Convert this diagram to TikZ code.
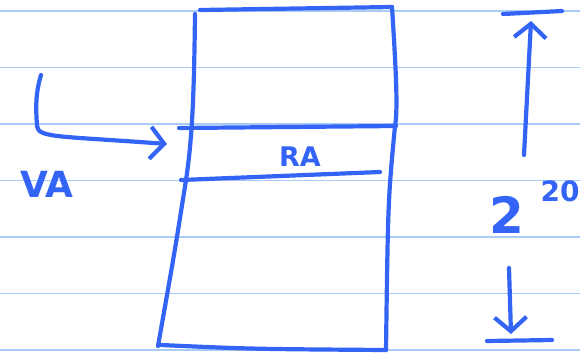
\documentclass[tikz,border=0pt]{standalone}
\usepackage{fontspec}
\setsansfont{DejaVu Sans}
\usetikzlibrary{arrows.meta, positioning, calc}
\definecolor{ink}{RGB}{52,100,246}
\definecolor{rule}{RGB}{168,204,246}

\begin{document}
\begin{tikzpicture}[
    x=1pt, y=-1pt,
    pen/.style={draw=ink, line width=4.2pt, line cap=round, line join=round},
    ruleline/.style={draw=rule, line width=1.8pt},
    handtext/.style={text=ink, inner sep=0pt},
    arrow/.style={pen, -{Straight Barb[length=14pt, width=32pt, line width=4.2pt]}}
  ]
  \useasboundingbox (0,0) rectangle (580,354);

  % ruled paper
  \foreach \y in {11, 67.5, 124, 180.5, 237, 293.5, 350}
    \draw[ruleline] (0,\y) -- (580,\y);

  % page frame
  \coordinate (tl) at (200,10);
  \coordinate (tr) at (392,7);
  \coordinate (br) at (386,350);
  \coordinate (bl) at (158,346);

  \draw[pen] (tl) -- (tr);
  \draw[pen] (195,14) .. controls (194,100) and (192,140) .. (186,180)
             .. controls (175,250) .. (bl);
  \draw[pen] (tr) .. controls (396,70) and (398,110) .. (395,126)
             .. controls (388,200) .. (br);
  \draw[pen] (161,345) .. controls (250,349) .. (br);

  % frame of the physical address
  \draw[pen] (179,128) -- (396,126);
  \draw[pen] (181,180) -- (380,172);
  \node[handtext, font=\sffamily\bfseries\fontsize{27}{27}\selectfont] (ra) at (300,157) {RA};

  % virtual address
  \coordinate (vastart) at (41,75);
  \coordinate (vaend) at (167,144);
  \draw[arrow] (vastart) .. controls (35,95) and (36,110) .. (37,126)
      .. controls (38,138) and (60,136) .. (vaend);
  \node[handtext, font=\sffamily\bfseries\fontsize{36}{36}\selectfont] (va) at (47,184) {VA};

  % size of the page
  \draw[pen] (503,14) -- (562,11);
  \draw[pen] (487,341) -- (552,340);
  \node[handtext, font=\sffamily\bfseries\fontsize{50}{50}\selectfont] (two) at (507,215) {2};
  \node[handtext, font=\sffamily\bfseries\fontsize{28}{28}\selectfont] (exp) at (560,191) {20};
  \draw[arrow] (524,155) -- (531,21);
  \draw[arrow] (509,268) -- (511,334);
\end{tikzpicture}
\end{document}
